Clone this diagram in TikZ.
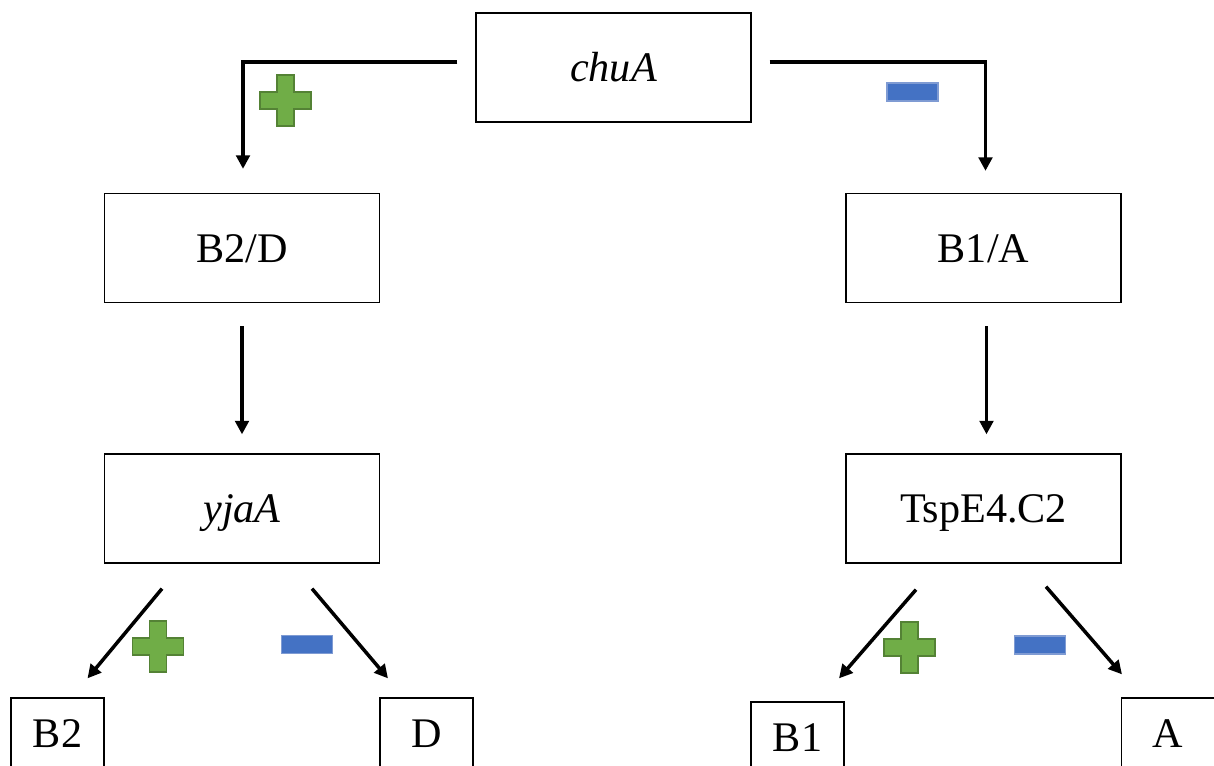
\documentclass[tikz,border=0pt]{standalone}
\usepackage{fontspec}
\setmainfont{Liberation Serif}
\usetikzlibrary{calc,arrows.meta}
\definecolor{plusgreen}{HTML}{70AD47}
\definecolor{plusedge}{HTML}{548235}
\definecolor{minusblue}{HTML}{4472C4}
\definecolor{minusedge}{HTML}{7F9BD3}
\tikzset{
  plusmark/.pic={
    \filldraw[fill=plusgreen, draw=plusedge, line width=0.6pt]
      (-8.5,-25.5) -- (8.5,-25.5) -- (8.5,-8.5) -- (25.5,-8.5) -- (25.5,8.5)
      -- (8.5,8.5) -- (8.5,25.5) -- (-8.5,25.5) -- (-8.5,8.5) -- (-25.5,8.5)
      -- (-25.5,-8.5) -- (-8.5,-8.5) -- cycle;
  },
  minusmark/.pic={
    \filldraw[fill=minusblue, draw=minusedge, line width=0.6pt]
      (-25.5,-9) rectangle (25.5,9);
  }
}

\begin{document}
\begin{tikzpicture}[x=0.02cm,y=-0.02cm,
  box/.style={draw, line width=0.75pt, minimum width=5.5cm, minimum height=2.18cm,
    inner sep=0pt, text height=16pt, text depth=-1pt, font=\fontsize{24}{28}\selectfont},
  leaf/.style={box, minimum width=1.86cm, minimum height=1.42cm},
  arr/.style={->, line width=2pt},
  >={Triangle[length=0.27cm,width=0.27cm]}]
  \clip (0,0) rectangle (1214,765);

  % boxes
  \node[box] (chua) at (613.5,67.5) {\textit{chuA}};
  \node[box] (bd) at (242,248) {B2/D};
  \node[box] (ba) at (983.5,248) {B1/A};
  \node[box] (yjaa) at (242,508.5) {\textit{yjaA}};
  \node[box] (tsp) at (983.5,508.5) {TspE4.C2};
  \node[leaf] (b2) at (57.5,733.5) {B2};
  \node[leaf] (d) at (426.5,733.5) {D};
  \node[leaf] (b1) at (797.5,737.5) {B1};
  \node[leaf] (a) at (1168,733.5) {A};

  % arrows
  \draw[arr] ($(chua.west)+(-18,-5.5)$) -| ($(bd.north)+(1,-24)$);
  \draw[arr] ($(chua.east)+(18,-5.5)$) -| ($(ba.north)+(2,-22)$);
  \draw[arr] ($(bd.south)+(0,23)$) -- ($(yjaa.north)+(0,-19)$);
  \draw[arr] ($(ba.south)+(3,23)$) -- ($(tsp.north)+(3,-19)$);
  \draw[arr] ($(yjaa.south)+(-80,25)$) -- ($(b2.north)+(30,-19)$);
  \draw[arr] ($(yjaa.south)+(70,25)$) -- ($(d.north)+(-38.5,-19)$);
  \draw[arr] ($(tsp.south)+(-67.5,26)$) -- ($(b1.north)+(41.5,-23)$);
  \draw[arr] ($(tsp.south)+(62.5,23)$) -- ($(a.north)+(-46,-23)$);

  % signs
  \pic at (285.5,100.5) {plusmark};
  \pic at (912.5,92) {minusmark};
  \pic at (158,646.5) {plusmark};
  \pic at (307,644.5) {minusmark};
  \pic at (909.5,647.5) {plusmark};
  \pic at (1040,645) {minusmark};
\end{tikzpicture}
\end{document}
